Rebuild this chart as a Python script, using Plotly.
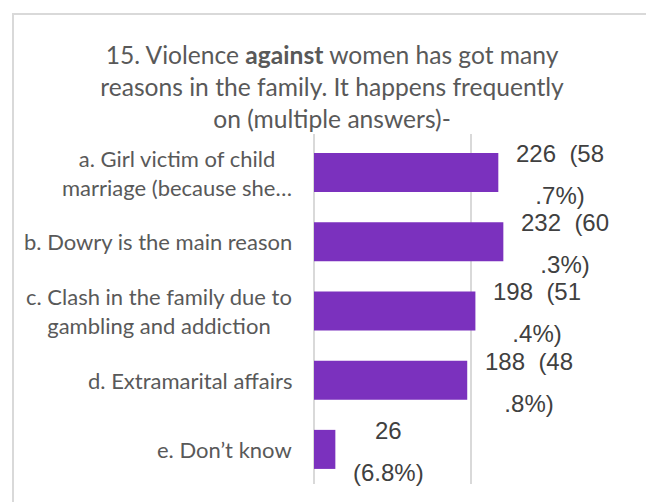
import plotly.graph_objects as go

categories = [
    "a. Girl victim of child<br>marriage (because she…",
    "b. Dowry is the main reason",
    "c. Clash in the family due to<br>gambling and addiction",
    "d. Extramarital affairs",
    "e. Don’t know",
]
counts = [226, 232, 198, 188, 26]
percents = [58.7, 60.3, 51.4, 48.8, 6.8]
x_ticks = [0, 50, 100]

title_text = ("15. Violence <b>against</b> women has got many<br>"
              "reasons in the family. It happens frequently<br>"
              "on (multiple answers)-")

BAR_COLOR = "#7B31BE"
GRID = "#D9D9D9"
LABEL_FONT = "Liberation Sans, Arial, sans-serif"
CAT_FONT = "Lato, Calibri, sans-serif"


def label_text(c, p):
    s = f"{p:.1f}"
    ip, dp = s.split(".")
    span = "<span style='font-size:24px'>{}</span>"
    if c >= 100:
        l1 = f"{c}\u00a0\u00a0({ip}"
        l2 = f".{dp}%)"
    else:
        l1 = f"{c}"
        l2 = f"({s}%)"
    return span.format(l1) + "<br>" + span.format(l2)


fig = go.Figure()
fig.add_trace(go.Bar(
    x=percents,
    y=categories,
    orientation="h",
    marker=dict(color=BAR_COLOR, line=dict(width=0)),
    hoverinfo="skip",
))

annotations = []
for cat, c, p in zip(categories, counts, percents):
    annotations.append(dict(
        x=p, y=cat, xref="x", yref="y",
        text=label_text(c, p),
        showarrow=False, xanchor="left", yanchor="middle",
        xshift=16, yshift=-2, align="center",
        font=dict(family=LABEL_FONT, size=32, color="#404040"),
    ))
    annotations.append(dict(
        x=0, y=cat, xref="paper", yref="y",
        text=cat, showarrow=False, xanchor="right", yanchor="middle",
        xshift=-20, align="center",
        font=dict(family=CAT_FONT, size=22, color="#595959"),
    ))

fig.update_layout(
    width=646, height=502,
    margin=dict(l=314, r=18, t=134, b=18),
    paper_bgcolor="white", plot_bgcolor="white",
    showlegend=False,
    bargap=0.436,
    title=dict(
        text=title_text,
        x=0.514, xanchor="center", xref="container",
        y=1 - 64 / 502, yanchor="top", yref="container",
        font=dict(family=CAT_FONT, size=24.6, color="#595959"),
    ),
    xaxis=dict(
        range=[0, 100], tickvals=x_ticks, showticklabels=False,
        showgrid=True, gridcolor=GRID, gridwidth=1.5,
        zeroline=True, zerolinecolor=GRID, zerolinewidth=1.5,
        showline=False, fixedrange=True,
    ),
    yaxis=dict(
        categoryorder="array", categoryarray=categories,
        autorange="reversed", showticklabels=False,
        showgrid=False, zeroline=False, showline=False,
        fixedrange=True,
    ),
    annotations=annotations,
    shapes=[dict(
        type="rect", xref="paper", yref="paper",
        x0=(13 - 314) / 314, x1=1.5,
        y0=-0.5, y1=1 + (134 - 14) / 350,
        line=dict(color=GRID, width=2), fillcolor="rgba(0,0,0,0)",
        layer="below",
    )],
)

fig.write_html("out.html", config={"displayModeBar": False},
               post_script="document.body.style.margin='0';")
